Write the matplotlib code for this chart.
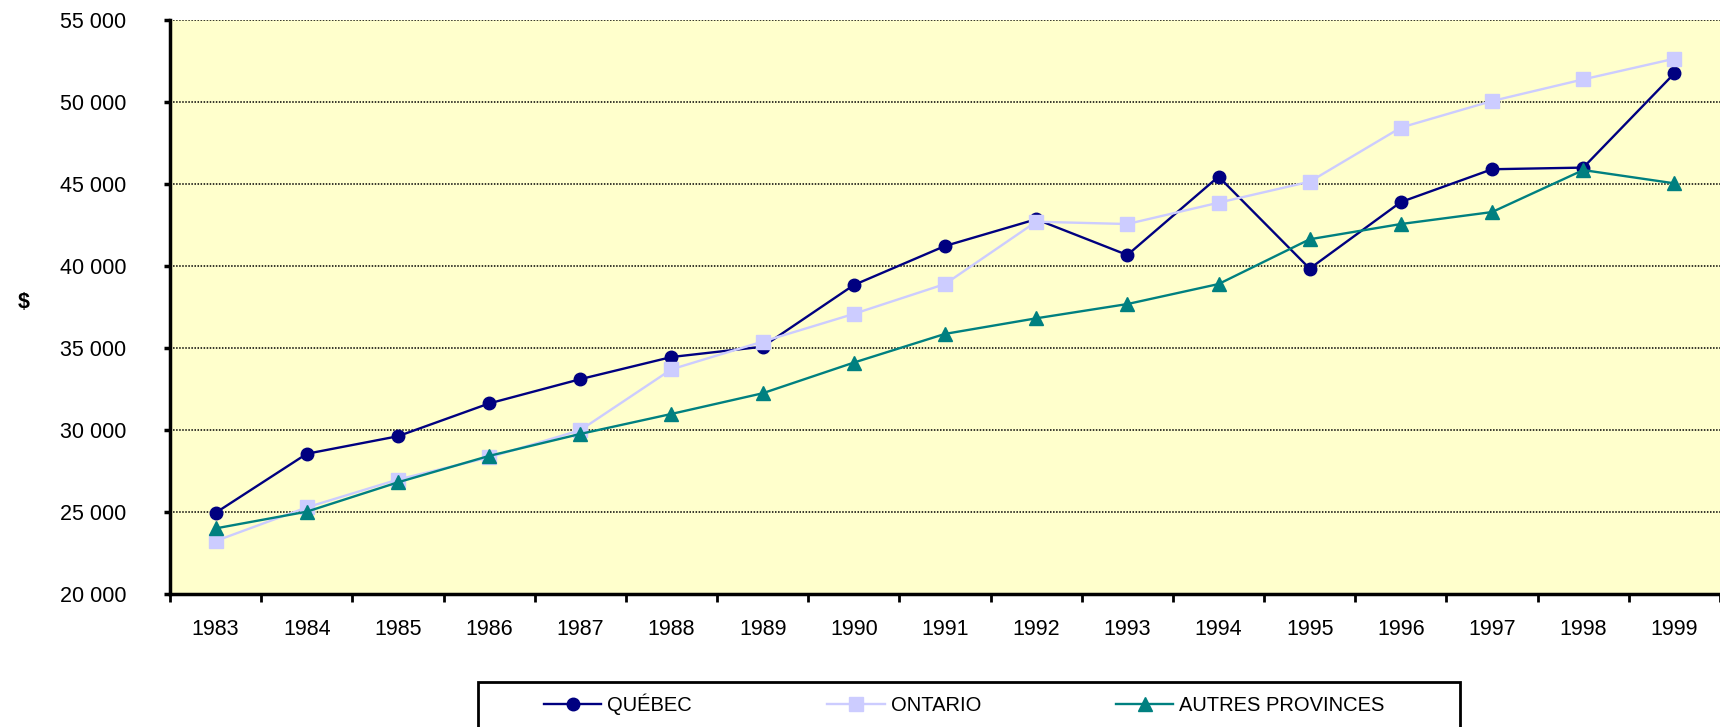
import numpy as np
import matplotlib.pyplot as plt
from matplotlib.patches import Rectangle
from matplotlib.ticker import FuncFormatter

plt.rcParams['font.family'] = ['Liberation Sans', 'DejaVu Sans']

# Données
years = ['1983', '1984', '1985', '1986', '1987', '1988', '1989', '1990', '1991',
         '1992', '1993', '1994', '1995', '1996', '1997', '1998', '1999']
quebec = [24950, 28550, 29620, 31620, 33100, 34450, 35080, 38840, 41220,
          42850, 40670, 45450, 39840, 43900, 45900, 46000, 51750]
ontario = [23230, 25280, 26980, 28330, 29990, 33700, 35390, 37080, 38900,
           42700, 42560, 43860, 45140, 48440, 50060, 51380, 52640]
autres = [24000, 25020, 26810, 28420, 29760, 30980, 32240, 34110, 35860,
          36810, 37680, 38900, 41630, 42560, 43290, 45850, 45040]

W, H = 1720, 727
fig = plt.figure(figsize=(W / 100, H / 100), dpi=100)
ax = fig.add_axes([170 / W, 1 - 594 / H, 1 - 170 / W, (594 - 20) / H])
ax.set_facecolor('#FFFFCC')

x = np.arange(len(years))
ax.plot(x, quebec, color='#000080', lw=1.7, marker='o', ms=9, label='QUÉBEC')
ax.plot(x, ontario, color='#CCCCFF', lw=1.7, marker='s', ms=10.5, label='ONTARIO')
ax.plot(x, autres, color='#008080', lw=1.7, marker='^', ms=10,
        label='AUTRES PROVINCES')

ax.set_xlim(-0.5, len(years) - 0.5)
ax.set_ylim(20000, 55000)

# Axes
ax.set_xticks(x)
ax.set_xticklabels(years)
ax.set_xticks(np.arange(-0.5, len(years)), minor=True)
ax.tick_params(axis='x', which='major', length=0, pad=18, labelsize=15.5)
ax.tick_params(axis='x', which='minor', length=6, width=2, direction='out')
ax.set_yticks(np.arange(20000, 55001, 5000))
ax.yaxis.set_major_formatter(FuncFormatter(lambda v, p: f'{int(v):,}'.replace(',', ' ')))
ax.tick_params(axis='y', length=4.5, width=2.5, pad=27, labelsize=15.5)

ax.yaxis.grid(True, linestyle=(0, (1, 1)), color='black', linewidth=1.1)
ax.set_axisbelow(True)
for s in ['top', 'right']:
    ax.spines[s].set_visible(False)
for s in ['left', 'bottom']:
    ax.spines[s].set_linewidth(2.5)

fig.text(24 / W, 1 - 303 / H, '$', fontsize=15.5, fontweight='bold',
         ha='center', va='center')

# Légende
leg = fig.legend(loc='center left', bbox_to_anchor=(544 / W, 1 - 704 / H),
                 ncol=3, frameon=False, fontsize=14.5, borderpad=0,
                 borderaxespad=0, handlelength=2.85, handletextpad=0.3,
                 columnspacing=6.7)
fig.patches.append(Rectangle((478 / W, -0.05), (1460 - 478) / W,
                             0.05 + 1 - 682 / H, transform=fig.transFigure,
                             fill=False, edgecolor='black', linewidth=2))

fig.savefig('out.png', dpi=100)
